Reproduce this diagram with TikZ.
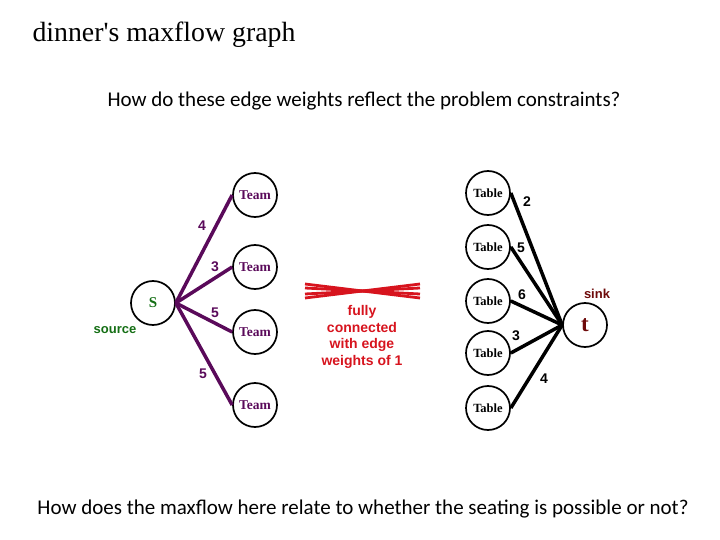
\documentclass[tikz,border=0pt]{standalone}
\usepackage{fontspec}
\setmainfont{Liberation Serif}
\newfontfamily\calfnt{Carlito}
\newfontfamily\arifnt{Liberation Sans}
\definecolor{purp}{RGB}{90,10,90}
\definecolor{redx}{RGB}{215,20,30}
\definecolor{grn}{RGB}{20,110,20}
\definecolor{maroon}{RGB}{110,10,10}
\begin{document}
\begin{tikzpicture}[x=1pt,y=-1pt,
  vert/.style={circle,draw=black,line width=1.7pt,minimum size=44pt,inner sep=0pt},
  teamlbl/.style={font=\fontsize{13.5}{13.5}\selectfont\bfseries,text=purp},
  tablbl/.style={font=\fontsize{12.5}{12.5}\selectfont\bfseries},
  pedge/.style={draw=purp,line width=3.5pt},
  bedge/.style={draw=black,line width=3.5pt},
  wt/.style={font=\arifnt\fontsize{14}{14}\selectfont\bfseries},
  redline/.style={draw=redx,line width=2.8pt}]
\useasboundingbox (0,0) rectangle (720,540);
\node[anchor=west,font=\fontsize{27.8}{28}\selectfont] (title) at (29,35) {dinner\textquotesingle s maxflow graph};
\node[font=\calfnt\fontsize{21}{21}\selectfont] (sub) at (364,101) {How do these edge weights reflect the problem constraints?};
\node[font=\calfnt\fontsize{21}{21}\selectfont] (bot) at (363,509) {How does the maxflow here relate to whether the seating is possible or not?};
% source
\node[vert,font=\fontsize{15}{15}\selectfont\bfseries,text=grn] (s) at (153,303) {S};
\node[font=\arifnt\fontsize{13}{13}\selectfont\bfseries,text=grn] (src) at (115,330) {source};
% teams
\node[vert,teamlbl] (t1) at (255,195) {Team};
\node[vert,teamlbl] (t2) at (255,267) {Team};
\node[vert,teamlbl] (t3) at (255,332) {Team};
\node[vert,teamlbl] (t4) at (255,405) {Team};
\foreach \n in {t1,t2,t3,t4} \draw[pedge] (s.east) -- (\n.west);
\node[wt,text=purp] (w1) at (202,226) {4};
\node[wt,text=purp] (w2) at (215,267) {3};
\node[wt,text=purp] (w3) at (215,313) {5};
\node[wt,text=purp] (w4) at (203,374) {5};
% tables
\node[vert,tablbl] (b1) at (488,193) {Table};
\node[vert,tablbl] (b2) at (488,247) {Table};
\node[vert,tablbl] (b3) at (488,301) {Table};
\node[vert,tablbl] (b4) at (488,353) {Table};
\node[vert,tablbl] (b5) at (488,408) {Table};
\node[vert,font=\fontsize{23}{23}\selectfont\bfseries,text=maroon] (t) at (585,325) {t};
\node[font=\arifnt\fontsize{13}{13}\selectfont\bfseries,text=maroon] (sink) at (597,294) {sink};
\foreach \n in {b1,b2,b3,b4,b5} \draw[bedge] (\n.east) -- (t.west);
\node[wt] (v1) at (527,202) {2};
\node[wt] (v2) at (521,248) {5};
\node[wt] (v3) at (522,295) {6};
\node[wt] (v4) at (516,336) {3};
\node[wt] (v5) at (544,379) {4};
% red X
\coordinate (l1) at (305,284); \coordinate (r1) at (420,298);
\coordinate (l2) at (305,288); \coordinate (r2) at (420,294);
\coordinate (l3) at (305,294); \coordinate (r3) at (420,288);
\coordinate (l4) at (305,298); \coordinate (r4) at (420,284);
\draw[redline] (l1) -- (r1); \draw[redline] (l2) -- (r2);
\draw[redline] (l3) -- (r3); \draw[redline] (l4) -- (r4);
\node[font=\arifnt\fontsize{14}{16.5}\selectfont\bfseries,text=redx,align=center] (fc) at (362,337) {fully\\connected\\with edge\\weights of 1};
\end{tikzpicture}
\end{document}
